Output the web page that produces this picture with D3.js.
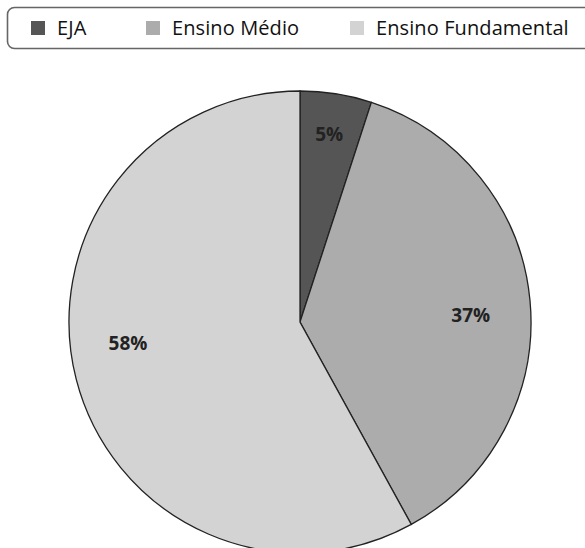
<!DOCTYPE html>
<html><head><meta charset="utf-8">
<script src="https://cdn.jsdelivr.net/npm/d3@7"></script>
<style>body{margin:0;background:#fff;}svg{display:block;}</style>
</head><body>
<svg id="c" width="585" height="548"></svg>
<script>
const categories = ["EJA", "Ensino Médio", "Ensino Fundamental"];
const values = [5, 37, 58];
const labels = ["5%", "37%", "58%"];
const colors = ["#555555", "#acacac", "#d3d3d3"];

const svg = d3.select("#c");
const font = "'Open Sans', 'DejaVu Sans', sans-serif";

// legend
svg.append("rect").attr("x", 7.5).attr("y", 7.5).attr("width", 600).attr("height", 41)
  .attr("rx", 7).attr("fill", "#fff").attr("stroke", "#666").attr("stroke-width", 1.6);
const legX = [31, 146, 350];
const leg = svg.append("g").selectAll("g").data(categories).join("g")
  .attr("transform", (d, i) => `translate(${legX[i]},21)`);
leg.append("rect").attr("width", 14).attr("height", 14).attr("fill", (d, i) => colors[i]);
leg.append("text").attr("x", 26).attr("y", 13.5).text(d => d)
  .attr("font-family", font).attr("font-size", 20).attr("letter-spacing", 0.1).attr("fill", "#111");

// pie
const cx = 300, cy = 322, r = 231;
const pie = d3.pie().sort(null).value(d => d);
const arcs = pie(values);
const arc = d3.arc().innerRadius(0).outerRadius(r);
const g = svg.append("g").attr("transform", `translate(${cx},${cy})`);
g.selectAll("path").data(arcs).join("path")
  .attr("d", arc).attr("fill", (d, i) => colors[i])
  .attr("stroke", "#222").attr("stroke-width", 1.3);
// label placement (layout tweaks in degrees / radius fraction)
const labelShift = [-0.2, 3.0, 7.4];
const labelRad = [0.825, 0.74, 0.75];
g.selectAll("text").data(arcs).join("text")
  .attr("transform", (d, i) => {
    const a = (d.startAngle + d.endAngle) / 2 + labelShift[i] * Math.PI / 180;
    const lr = labelRad[i] * r;
    return `translate(${Math.sin(a) * lr},${-Math.cos(a) * lr})`;
  })
  .attr("text-anchor", "middle").attr("dominant-baseline", "central")
  .attr("font-family", font).attr("font-weight", "bold").attr("font-size", 19)
  .attr("fill", "#222").text((d, i) => labels[i]);
</script>
</body></html>
